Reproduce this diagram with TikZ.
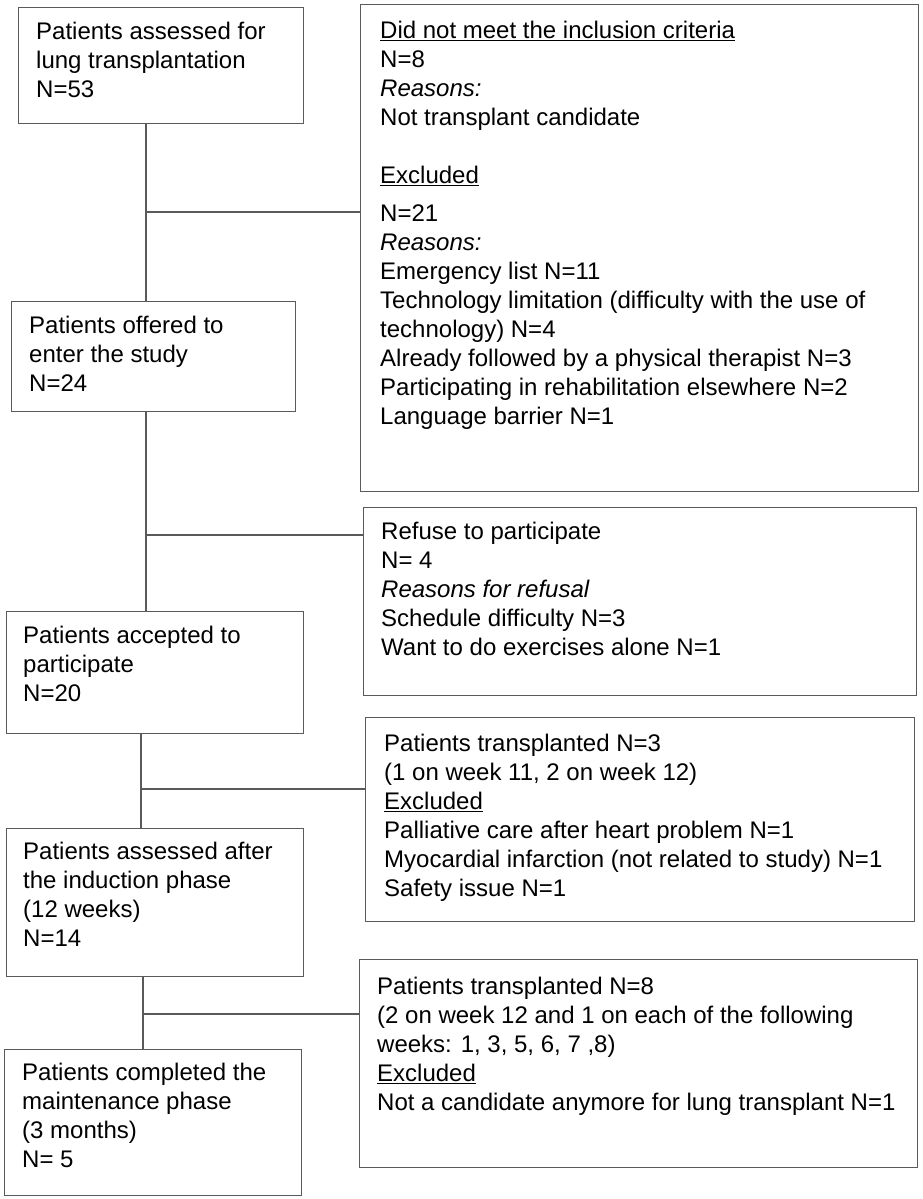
\documentclass[tikz,border=0pt]{standalone}
\usepackage{fontspec}
\setmainfont{Liberation Sans}
\usetikzlibrary{calc}
\definecolor{linegray}{HTML}{5A5A5A}
\newcommand{\fstrut}{\rule{0pt}{22pt}}
\begin{document}
\begin{tikzpicture}[x=1pt,y=-1pt,
  box/.style={draw=linegray, line width=1.3pt, inner sep=0pt, anchor=north west},
  txt/.style={anchor=north west, inner sep=0pt, align=left, font=\fontsize{24}{29}\selectfont, text=black},
  conn/.style={draw=linegray, line width=1.3pt}]
\useasboundingbox (0,0) rectangle (922,1199);

% left boxes
\node[box, minimum width=285pt, minimum height=116pt] (b1) at (18,7) {};
\node[box, minimum width=284pt, minimum height=110pt] (b2) at (11,301) {};
\node[box, minimum width=297pt, minimum height=122pt] (b3) at (6,611) {};
\node[box, minimum width=297pt, minimum height=148pt] (b4) at (6,828) {};
\node[box, minimum width=297pt, minimum height=146pt] (b5) at (4,1049) {};
% right boxes
\node[box, minimum width=558pt, minimum height=487pt] (r1) at (360,4) {};
\node[box, minimum width=553pt, minimum height=188pt] (r2) at (363,507) {};
\node[box, minimum width=549pt, minimum height=204pt] (r3) at (365,717) {};
\node[box, minimum width=558pt, minimum height=208pt] (r4) at (359,959) {};

% texts
\node[txt] (t1) at (36,17) {\fstrut Patients assessed for\\lung transplantation\\N=53};
\node[txt] (t2) at (29,311) {\fstrut Patients offered to\\enter the study\\N=24};
\node[txt] (t3) at (23,621) {\fstrut Patients accepted to\\participate\\N=20};
\node[txt] (t4) at (23,837) {\fstrut Patients assessed after\\the induction phase\\(12 weeks)\\N=14};
\node[txt] (t5) at (22,1058) {\fstrut Patients completed the\\maintenance phase\\(3 months)\\N= 5};

\node[txt] (s1) at (380,16) {\fstrut \underline{Did not meet the inclusion criteria}\\N=8\\\textit{Reasons:}\\Not transplant candidate\\[29pt]\underline{Excluded}\\[9pt]N=21\\\textit{Reasons:}\\Emergency list N=11\\Technology limitation (difficulty with the use of\\technology) N=4\\Already followed by a physical therapist N=3\\Participating in rehabilitation elsewhere N=2\\Language barrier N=1};
\node[txt] (s2) at (381,517) {\fstrut Refuse to participate\\N= 4\\\textit{Reasons for refusal}\\Schedule difficulty N=3\\Want to do exercises alone N=1};
\node[txt] (s3) at (384,729) {\fstrut Patients transplanted N=3\\(1 on week 11, 2 on week 12)\\\underline{Excluded}\\Palliative care after heart problem N=1\\Myocardial infarction (not related to study) N=1\\Safety issue N=1};
\node[txt] (s4) at (377,972) {\fstrut Patients transplanted N=8\\(2 on week 12 and 1 on each of the following\\weeks: 1, 3, 5, 6, 7 ,8)\\\underline{Excluded}\\Not a candidate anymore for lung transplant N=1};

% connectors
\coordinate (j1) at (146,212);
\coordinate (j2) at (146,535);
\coordinate (j3) at (141,789);
\coordinate (j4) at (143,1014);
\draw[conn] (b1.south -| j1) -- (b2.north -| j1);
\draw[conn] (j1) -- (r1.west |- j1);
\draw[conn] (b2.south -| j2) -- (b3.north -| j2);
\draw[conn] (j2) -- (r2.west |- j2);
\draw[conn] (b3.south -| j3) -- (b4.north -| j3);
\draw[conn] (j3) -- (r3.west |- j3);
\draw[conn] (b4.south -| j4) -- (b5.north -| j4);
\draw[conn] (j4) -- (r4.west |- j4);
\end{tikzpicture}
\end{document}
